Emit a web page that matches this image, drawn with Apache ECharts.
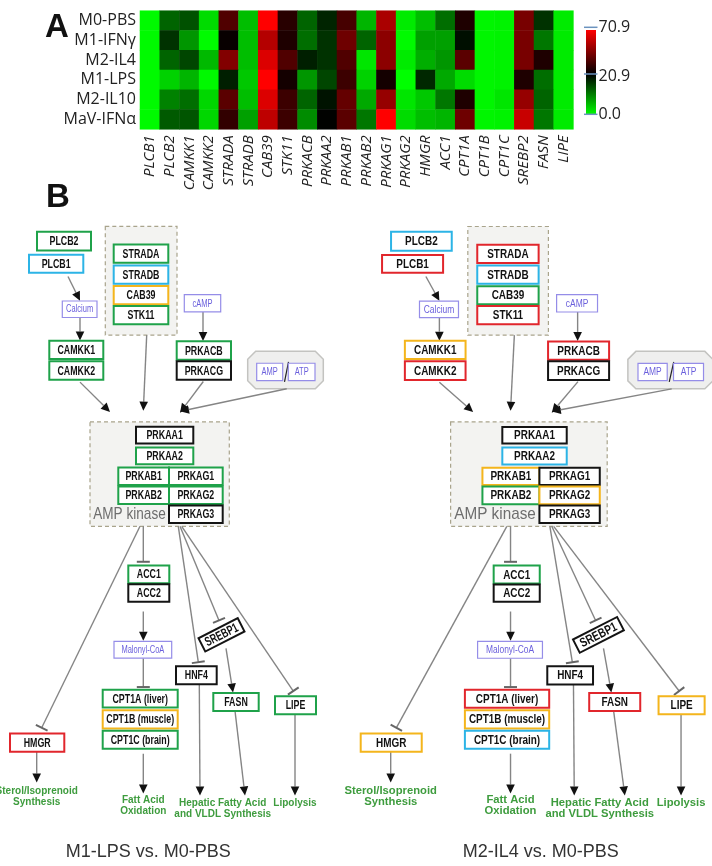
<!DOCTYPE html>
<html><head><meta charset="utf-8">
<script src="https://cdn.jsdelivr.net/npm/echarts@6/dist/echarts.min.js"></script>
<style>html,body{margin:0;padding:0;background:#fff}#c{width:712px;height:866px}</style>
</head><body><div id="c"></div>
<script>
// ===== Panel A : heatmap data =====
const genes = ['PLCB1','PLCB2','CAMKK1','CAMKK2','STRADA','STRADB','CAB39','STK11','PRKACB','PRKAA2','PRKAB1','PRKAB2','PRKAG1','PRKAG2','HMGR','ACC1','CPT1A','CPT1B','CPT1C','SREBP2','FASN','LIPE'];
const conditions = ['M0-PBS','M1-IFNγ','M2-IL4','M1-LPS','M2-IL10','MaV-IFNα'];
const valM0PBS   = [0.4,12.7,14.3,2.9,36.6,5.3,70.9,28.7,12.7,18.0,34.6,6.1,54.2,1.6,5.3,11.9,26.8,0.8,1.0,44.4,16.8,1.6];
const valM1IFNg  = [0.4,16.8,8.6,0.3,22.5,5.3,56.2,26.8,11.9,16.8,42.5,12.7,48.4,0.4,7.8,7.8,19.7,0.8,1.0,44.4,11.1,1.6];
const valM2IL4   = [0.4,12.7,15.2,5.7,46.4,5.3,64.0,36.6,18.4,16.8,36.6,2.0,48.4,1.6,6.6,8.6,38.5,0.8,1.0,44.4,26.8,1.6];
const valM1LPS   = [0.4,3.7,6.1,0.5,18.4,4.5,70.9,24.8,8.6,15.2,32.7,3.7,24.8,0.0,17.6,7.0,2.9,0.8,1.0,26.8,11.9,1.6];
const valM2IL10  = [0.4,10.2,11.9,3.3,38.5,5.3,64.0,32.7,12.7,19.3,40.5,7.0,50.3,2.0,4.5,11.1,26.8,0.8,2.0,50.3,12.7,1.6];
const valMaVIFNa = [0.4,13.5,13.9,3.3,30.7,7.8,58.2,32.7,9.4,21.0,38.5,11.1,70.9,2.9,5.3,6.1,42.5,0.8,1.0,60.1,11.1,1.6];
const scaleTicks = ['70.9','20.9','0.0'];
const scaleMin = 0, scaleMid = 20.9, scaleMax = 70.9;

// ===== Panel B : pathway diagram (layout units of the left panel) =====
const geneNames = ['PLCB2','PLCB1','CAMKK1','CAMKK2','STRADA','STRADB','CAB39','STK11','PRKACB','PRKACG','PRKAA1','PRKAA2','PRKAB1','PRKAG1','PRKAB2','PRKAG2','PRKAG3','ACC1','ACC2','CPT1A (liver)','CPT1B (muscle)','CPT1C (brain)','HMGR','HNF4','SREBP1','FASN','LIPE'];
const geneBoxes = [
 [37,232,91,251],[29,255.3,83.3,273.3],[49.3,341.7,103.3,360],[49.3,362.3,103.3,381],
 [113.7,245,168.3,263.3],[113.7,266,168.3,284.3],[113.7,286.7,168.3,305],[113.7,306.7,168.3,325],
 [176.7,342.3,231,360.7],[176.7,362.3,231,381],
 [136,428.3,193.3,445],[136,449,193.3,466],[118.3,469.3,169,486.7],[169,469.3,222.7,486.7],
 [118.3,488.3,169,506],[169,488.3,222.7,506],[169,507.3,222.7,525],
 [128.3,567.7,169.3,585.7],[128.3,586.7,169.3,604.3],
 [102.7,692.7,177.7,710.7],[102.7,713.3,177.7,731.7],[102.7,734,177.7,752],
 [10,736.7,64.3,755],[176,669,216.7,687.3],[199.5,630,243.5,645],[213.3,696,258.7,714],[275,699.3,316,717.3]
];
const geneTilt = [0,0,0,0,0,0,0,0,0,0,0,0,0,0,0,0,0,0,0,0,0,0,0,0,27,0,0];
const statusM1LPS = ['g','b','g','g','g','b','o','g','g','k','k','g','g','g','g','g','k','g','k','g','o','g','r','k','k','g','g'];
const statusM2IL4 = ['b','r','o','r','r','b','g','r','r','k','k','b','o','k','g','o','k','g','k','r','o','b','o','k','k','r','o'];
const metaboliteNames = ['Calcium','cAMP','AMP','ATP','Malonyl-CoA'];
const metaboliteBoxes = [[62.3,301.7,97,318.3],[184.3,295.3,220.7,312.7],[256.7,364.3,282.7,381.7],[288.3,364.3,315,381.7],[114,644,171.7,661]];
const complexBoxes = [[105.3,226.7,177,336],[90,423.3,229.3,528.3]];
const poolBoxes = [[247.7,352.3,323.3,390]];
// [x0,y0,x1,y1,kind] kind 1 = activation arrow, 2 = inhibition, 0 = plain slash
const links = [
 [68,277,80,301.5,1],[80,318.3,80,341.5,1],[80,383.3,110,413.3,1],[146.7,336,143.3,412,1],
 [203,312.7,203,342,1],[203.3,382.7,180,414,1],[286.7,390,180,412.7,1],
 [140,528.3,41.7,731,2],[143.3,528.3,143.3,564,2],[143.3,614,143.3,643.5,1],[143.3,661,143.3,690,2],
 [143.3,757,143.3,797,1],[36.7,755,36.7,786,1],[178.3,528.3,198.3,665,2],[199.3,687.3,200,799,1],
 [180,528.3,219,623,2],[226,651,233,695.5,1],[235,714,245,799,1],[181.7,528.3,293.3,694,2],
 [295,717.3,295,799,1],[284.5,383,288.5,363,0]
];
const outcomeNames = ['Sterol/Isoprenoid\nSynthesis','Fatt Acid\nOxidation','Hepatic Fatty Acid\nand VLDL Synthesis','Lipolysis'];
const outcomePos = [[36.7,800.3],[143.3,809.7],[222.7,812],[295,807.3]];
const kinaseLabel = 'AMP kinase';
const kinasePos = [[129.5,516]];
const panelTitles = ['M1-LPS vs. M0-PBS','M2-IL4 vs. M0-PBS'];

// ===== styles =====
const palette = {g:'#1fa24a', b:'#2cb4e6', o:'#f4b51c', r:'#e1262c', k:'#141414'};
const SANS = '"Liberation Sans", Arial, sans-serif';

function scaleColor(v){
  if (v <= scaleMid) { const t = v/scaleMid; return 'rgb(0,' + Math.round(255*(1-t)) + ',0)'; }
  const t = (v-scaleMid)/(scaleMax-scaleMid); return 'rgb(' + Math.round(255*t) + ',0,0)';
}
const rampColors = []; for (let i=0;i<=70;i++) rampColors.push(scaleColor(scaleMax*i/70));

const rows = [valM0PBS,valM1IFNg,valM2IL4,valM1LPS,valM2IL10,valMaVIFNa];
const heatData = [];
rows.forEach((r,ri)=>r.forEach((v,ci)=>heatData.push([ci,ri,v])));

function corners(api){
  const a = api.coord([api.value(0), api.value(1)]);
  const b = api.coord([api.value(2), api.value(3)]);
  return {x0:Math.min(a[0],b[0]), y0:Math.min(a[1],b[1]), x1:Math.max(a[0],b[0]), y1:Math.max(a[1],b[1])};
}

function panelSeries(idx, status, sx){
  const base = {type:'custom', coordinateSystem:'cartesian2d', xAxisIndex:idx, yAxisIndex:idx, silent:true, clip:false};
  const box4 = {x:[0,2], y:[1,3]};
  return [
    Object.assign({}, base, {z:1, data:complexBoxes, encode:box4, renderItem:(p,api)=>{
      const c = corners(api);
      return {type:'rect', shape:{x:c.x0,y:c.y0,width:c.x1-c.x0,height:c.y1-c.y0},
        style:{fill:'#f3f3f1', stroke:'#a9a48c', lineWidth:1.2, lineDash:[4,3]}};
    }}),
    Object.assign({}, base, {z:1, data:poolBoxes, encode:box4, renderItem:(p,api)=>{
      const c = corners(api); const k = 8;
      return {type:'polygon', shape:{points:[[c.x0+k,c.y0],[c.x1-k,c.y0],[c.x1,c.y0+k],[c.x1,c.y1-k],[c.x1-k,c.y1],[c.x0+k,c.y1],[c.x0,c.y1-k],[c.x0,c.y0+k]]},
        style:{fill:'#efefee', stroke:'#c3c3c0', lineWidth:1.5}};
    }}),
    Object.assign({}, base, {z:2, data:links, encode:box4, renderItem:(p,api)=>{
      const p0 = api.coord([api.value(0), api.value(1)]);
      const p1 = api.coord([api.value(2), api.value(3)]);
      const kind = api.value(4);
      const dx = p1[0]-p0[0], dy = p1[1]-p0[1], L = Math.hypot(dx,dy), ux = dx/L, uy = dy/L;
      if (kind === 0) {
        return {type:'line', shape:{x1:p0[0],y1:p0[1],x2:p1[0],y2:p1[1]}, style:{stroke:'#222', lineWidth:1.2}};
      }
      if (kind === 1) {
        const hl = 9, hw = 4.3, bx = p1[0]-ux*hl, by = p1[1]-uy*hl;
        return {type:'group', children:[
          {type:'line', shape:{x1:p0[0],y1:p0[1],x2:bx,y2:by}, style:{stroke:'#858585', lineWidth:1.4}},
          {type:'polygon', shape:{points:[[p1[0],p1[1]],[bx-uy*hw,by+ux*hw],[bx+uy*hw,by-ux*hw]]}, style:{fill:'#111'}}
        ]};
      }
      const hw = 6.5;
      return {type:'group', children:[
        {type:'line', shape:{x1:p0[0],y1:p0[1],x2:p1[0],y2:p1[1]}, style:{stroke:'#858585', lineWidth:1.4}},
        {type:'line', shape:{x1:p1[0]-uy*hw,y1:p1[1]+ux*hw,x2:p1[0]+uy*hw,y2:p1[1]-ux*hw}, style:{stroke:'#666', lineWidth:2}}
      ]};
    }}),
    Object.assign({}, base, {z:3, data:geneBoxes, encode:box4, renderItem:(p,api)=>{
      const i = p.dataIndex; const c = corners(api); const w = c.x1-c.x0, h = c.y1-c.y0;
      return {type:'group', x:(c.x0+c.x1)/2, y:(c.y0+c.y1)/2, rotation:geneTilt[i]*Math.PI/180, children:[
        {type:'rect', shape:{x:-w/2,y:-h/2,width:w,height:h}, style:{fill:'#fff', stroke:palette[status[i]], lineWidth:2}},
        {type:'text', scaleX:0.68*sx, style:{text:geneNames[i], x:0, y:0.5, align:'center', verticalAlign:'middle', font:'bold 13px ' + SANS, fill:'#111'}}
      ]};
    }}),
    Object.assign({}, base, {z:3, data:metaboliteBoxes, encode:box4, renderItem:(p,api)=>{
      const i = p.dataIndex; const c = corners(api); const w = c.x1-c.x0, h = c.y1-c.y0;
      return {type:'group', x:(c.x0+c.x1)/2, y:(c.y0+c.y1)/2, children:[
        {type:'rect', shape:{x:-w/2,y:-h/2,width:w,height:h}, style:{fill:'#fff', stroke:'#958de8', lineWidth:1.2}},
        {type:'text', scaleX:0.75*sx, style:{text:metaboliteNames[i], x:0, y:0.5, align:'center', verticalAlign:'middle', font:'10px ' + SANS, fill:'#6a5fdc'}}
      ]};
    }}),
    Object.assign({}, base, {z:3, data:outcomePos, encode:{x:0,y:1}, renderItem:(p,api)=>{
      const i = p.dataIndex; const q = api.coord([api.value(0), api.value(1)]);
      return {type:'text', x:q[0], y:q[1], scaleX:sx, style:{text:outcomeNames[i], x:0, y:0, align:'center', verticalAlign:'middle', lineHeight:11, font:'bold 10px ' + SANS, fill:'#3e9c3e'}};
    }}),
    Object.assign({}, base, {z:3, data:kinasePos, encode:{x:0,y:1}, renderItem:(p,api)=>{
      const q = api.coord([api.value(0), api.value(1)]);
      return {type:'text', x:q[0], y:q[1], scaleX:0.8*sx, style:{text:kinaseLabel, x:0, y:0, align:'center', verticalAlign:'middle', font:'17px ' + SANS, fill:'#6e6e6e'}};
    }})
  ];
}

const chart = echarts.init(document.getElementById('c'), null, {renderer:'canvas'});
const hiddenX = (gi, max) => ({type:'value', gridIndex:gi, min:0, max:max, show:false});
const hiddenY = (gi) => ({type:'value', gridIndex:gi, min:180, max:870, inverse:true, show:false});
const sxRight = 1.124;

chart.setOption({
  animation:false,
  backgroundColor:'#fff',
  grid:[
    {left:140, top:10.7, width:433.4, height:118.6},
    {left:0, top:180, width:320, height:690},
    {left:349.46, top:180.08, width:320*sxRight, height:690*1.012}
  ],
  xAxis:[
    {type:'category', gridIndex:0, data:genes, axisLine:{show:false}, axisTick:{show:false}, splitLine:{show:false},
     axisLabel:{rotate:90, interval:0, margin:6, fontStyle:'italic', fontSize:15, fontFamily:'Open Sans', color:'#222'}},
    hiddenX(1,320), hiddenX(2,320)
  ],
  yAxis:[
    {type:'category', gridIndex:0, data:conditions, inverse:true, axisLine:{show:false}, axisTick:{show:false}, splitLine:{show:false},
     axisLabel:{interval:0, fontSize:16, fontFamily:'Open Sans', color:'#222', margin:4}},
    hiddenY(1), hiddenY(2)
  ],
  visualMap:{type:'continuous', show:false, min:scaleMin, max:scaleMax, seriesIndex:0, inRange:{color:rampColors}},
  series:[
    {type:'heatmap', xAxisIndex:0, yAxisIndex:0, data:heatData, silent:true, itemStyle:{borderWidth:0}},
    ...panelSeries(1, statusM1LPS, 1),
    ...panelSeries(2, statusM2IL4, sxRight)
  ],
  graphic:[
    {type:'text', left:45, top:11, style:{text:'A', font:'bold 33px ' + SANS, fill:'#111'}},
    {type:'text', left:46, top:181, style:{text:'B', font:'bold 33px ' + SANS, fill:'#111'}},
    {type:'rect', shape:{x:586, y:30, width:10, height:85}, style:{fill:{type:'linear', x:0, y:0, x2:0, y2:1,
      colorStops:[{offset:0,color:'#ff0000'},{offset:0.52,color:'#000000'},{offset:1,color:'#00ff00'}]}}},
    {type:'line', shape:{x1:584, y1:27.3, x2:597.5, y2:27.3}, style:{stroke:'#6b93bf', lineWidth:1.5}},
    {type:'line', shape:{x1:584, y1:74, x2:597.5, y2:74}, style:{stroke:'#6b93bf', lineWidth:1.5}},
    {type:'line', shape:{x1:584, y1:114.3, x2:597.5, y2:114.3}, style:{stroke:'#6b93bf', lineWidth:1.5}},
    {type:'text', x:598.5, y:27.3, style:{text:scaleTicks[0], font:'16px "Open Sans"', fill:'#222', align:'left', verticalAlign:'middle'}},
    {type:'text', x:598.5, y:76.3, style:{text:scaleTicks[1], font:'16px "Open Sans"', fill:'#222', align:'left', verticalAlign:'middle'}},
    {type:'text', x:598.5, y:114.3, style:{text:scaleTicks[2], font:'16px "Open Sans"', fill:'#222', align:'left', verticalAlign:'middle'}},
    {type:'text', x:148.3, y:851.7, style:{text:panelTitles[0], font:'18px ' + SANS, fill:'#333', align:'center', verticalAlign:'middle'}},
    {type:'text', x:540.7, y:852.3, style:{text:panelTitles[1], font:'18px ' + SANS, fill:'#333', align:'center', verticalAlign:'middle'}}
  ]
});
</script></body></html>
